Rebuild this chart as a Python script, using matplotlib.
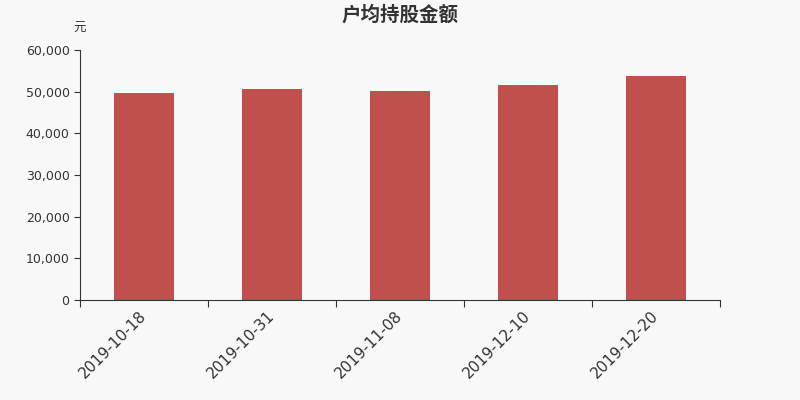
import matplotlib
matplotlib.use("Agg")
import matplotlib.pyplot as plt
from matplotlib.ticker import FuncFormatter, FixedLocator
import numpy as np

plt.rcParams['font.family'] = ['Noto Sans CJK SC', 'DejaVu Sans']

# Data
dates = ["2019-10-18", "2019-10-31", "2019-11-08", "2019-12-10", "2019-12-20"]
amount = [49600, 50600, 50050, 51600, 53800]
y_ticks = [0, 10000, 20000, 30000, 40000, 50000, 60000]

bg = "#f8f8f8"
bar_color = "#c0504d"
axis_color = "#333333"

fig = plt.figure(figsize=(8, 4), dpi=100, facecolor=bg)
ax = fig.add_axes([0.1, 0.25, 0.8, 0.625], facecolor=bg)

x = np.arange(len(dates))
ax.bar(x, amount, width=0.47, color=bar_color, zorder=2)

ax.set_xlim(-0.5, len(dates) - 0.5)
ax.set_ylim(0, 60000)
ax.set_yticks(y_ticks)
ax.yaxis.set_major_formatter(FuncFormatter(lambda v, p: f"{int(v):,}"))

# ticks on category boundaries, labels at centers
ax.xaxis.set_major_locator(FixedLocator(np.arange(-0.5, len(dates), 1.0)))
ax.xaxis.set_major_formatter(FuncFormatter(lambda v, p: ""))
ax.xaxis.set_minor_locator(FixedLocator(x))
ax.set_xticklabels(dates, minor=True, rotation=45, ha="right", va="center",
                   rotation_mode="anchor", fontsize=11, color=axis_color,
                   family="DejaVu Sans")
ax.tick_params(axis="x", which="minor", length=0, pad=10)
ax.tick_params(axis="x", which="major", length=5, color=axis_color)
ax.tick_params(axis="y", length=4, color=axis_color, labelsize=9,
               labelcolor=axis_color)
for lbl in ax.get_yticklabels():
    lbl.set_family("DejaVu Sans")

for s in ["top", "right"]:
    ax.spines[s].set_visible(False)
for s in ["left", "bottom"]:
    ax.spines[s].set_color(axis_color)

fig.text(0.5, 0.963, "户均持股金额", ha="center", va="center",
         fontsize=14, fontweight="bold", color=axis_color)
fig.text(0.092, 0.93, "元", ha="left", va="center", fontsize=9,
         color=axis_color)

fig.savefig("out.png", dpi=100, facecolor=bg)
